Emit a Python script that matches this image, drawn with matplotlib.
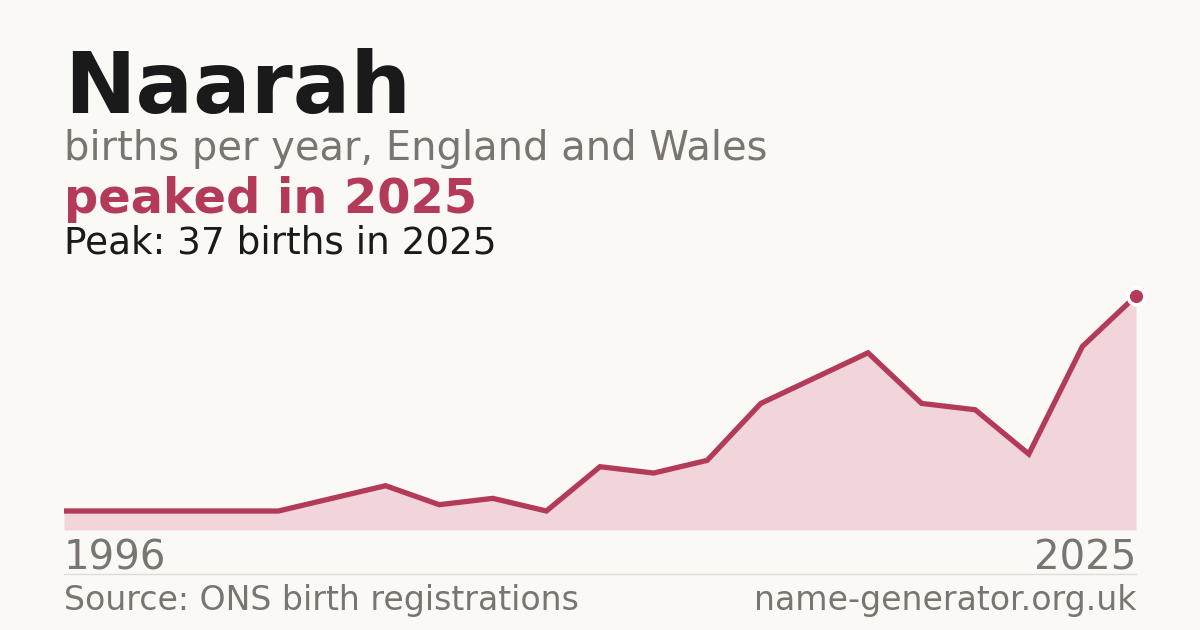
import matplotlib
matplotlib.use("Agg")
import matplotlib.pyplot as plt

# births per year (21 reported points, 1996 -> 2025)
births = [3, 3, 3, 3, 3, 5, 7, 4, 5, 3, 10, 9, 11, 20, 24, 28, 20, 19, 12, 29, 37]
first_year = "1996"
last_year = "2025"
name = "Naarah"
subtitle = "births per year, England and Wales"
headline = "peaked in 2025"
peak_text = "Peak: 37 births in 2025"
source = "Source: ONS birth registrations"
site = "name-generator.org.uk"

bg = "#faf9f5"
crimson = "#b33a58"
fill_col = "#f1d5db"
grey = "#7a756e"
ink = "#1a1a1a"

fig = plt.figure(figsize=(12, 6.3), dpi=100, facecolor=bg)

xs = list(range(len(births)))
ax = fig.add_axes([64 / 1200, 100 / 630, 1072 / 1200, 250 / 630])
ax.set_facecolor(bg)
ax.fill_between(xs, births, 0, color=fill_col, lw=0)
ax.plot(xs, births, color=crimson, lw=3.8, solid_joinstyle="miter", solid_capstyle="butt")
ax.plot(xs[-1], births[-1], "o", ms=12, color=crimson, mec="white", mew=2.5, clip_on=False, zorder=5)
ax.set_xlim(0, len(births) - 1)
ax.set_ylim(0, 39.5)
ax.axis("off")

# title block
fig.text(64 / 1200, 1 - 113 / 630, name, fontsize=61.5, fontweight="bold", color=ink, va="baseline")
fig.text(64 / 1200, 1 - 160 / 630, subtitle, fontsize=28.8, color=grey, va="baseline")
fig.text(64 / 1200, 1 - 213 / 630, headline, fontsize=34.5, fontweight="bold", color=crimson, va="baseline")
fig.text(64 / 1200, 1 - 253 / 630, peak_text, fontsize=26.9, color=ink, va="baseline")

# axis end labels
fig.text(64 / 1200, 1 - 570 / 630, first_year, fontsize=29, color=grey, va="baseline")
fig.text(1136 / 1200, 1 - 570 / 630, last_year, fontsize=29, color=grey, va="baseline", ha="right")

# divider + footer
fig.add_artist(plt.Line2D([64 / 1200, 1136 / 1200], [1 - 574 / 630] * 2, color="#dedbd5", lw=1))
fig.text(64 / 1200, 1 - 610 / 630, source, fontsize=23.9, color=grey, va="baseline")
fig.text(1136 / 1200, 1 - 610 / 630, site, fontsize=23.9, color=grey, va="baseline", ha="right")

fig.savefig("out.png", dpi=100, facecolor=bg)
